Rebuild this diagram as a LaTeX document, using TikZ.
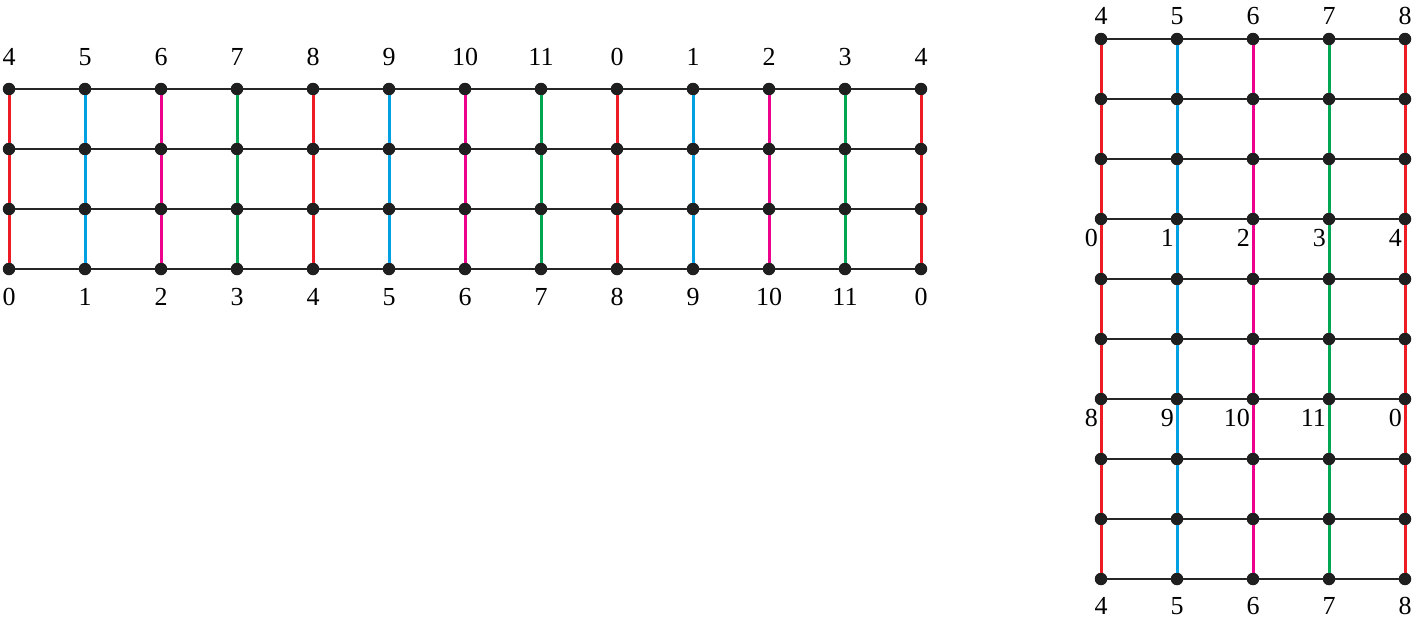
\documentclass[tikz,border=0pt]{standalone}
\usepackage{fontspec}
\setmainfont{Liberation Serif}
\definecolor{col0}{RGB}{237,28,36}
\definecolor{col1}{RGB}{0,160,227}
\definecolor{col2}{RGB}{236,0,140}
\definecolor{col3}{RGB}{0,166,81}
\begin{document}
\begin{tikzpicture}[x=1pt,y=-1pt,
  dot/.style={circle,fill=black!88,inner sep=0pt,minimum size=12.5pt},
  hline/.style={line width=1.8pt,black!85},
  vline/.style={line width=3pt},
  lab/.style={font=\fontsize{26}{26}\selectfont,inner sep=0pt}]
\useasboundingbox (0,0) rectangle (1417,621);
% left grid
\foreach \i in {0,...,12}{
  \foreach \j in {0,...,3}{
    \node[dot] (L\i-\j) at (9+76*\i,89+60*\j) {};
  }
}
\foreach \i in {0,...,12}{
  \pgfmathtruncatemacro{\c}{mod(\i,4)}
  \foreach \j in {0,...,2}{
    \pgfmathtruncatemacro{\jj}{\j+1}
    \draw[vline,col\c] (L\i-\j) -- (L\i-\jj);
  }
}
\foreach \i in {0,...,11}{
  \pgfmathtruncatemacro{\ii}{\i+1}
  \foreach \j in {0,...,3}{
    \draw[hline] (L\i-\j) -- (L\ii-\j);
  }
}
\foreach \i in {0,...,12}{
  \pgfmathtruncatemacro{\t}{mod(\i+4,12)}
  \pgfmathtruncatemacro{\b}{mod(\i,12)}
  \node[lab] (LT\i) at (9+76*\i,57) {\t};
  \node[lab] (LB\i) at (9+76*\i,297) {\b};
}
% right grid
\foreach \i in {0,...,4}{
  \foreach \j in {0,...,9}{
    \node[dot] (R\i-\j) at (1101+76*\i,39+60*\j) {};
  }
}
\foreach \i in {0,...,4}{
  \pgfmathtruncatemacro{\c}{mod(\i,4)}
  \foreach \j in {0,...,8}{
    \pgfmathtruncatemacro{\jj}{\j+1}
    \draw[vline,col\c] (R\i-\j) -- (R\i-\jj);
  }
}
\foreach \i in {0,...,3}{
  \pgfmathtruncatemacro{\ii}{\i+1}
  \foreach \j in {0,...,9}{
    \draw[hline] (R\i-\j) -- (R\ii-\j);
  }
}
\foreach \i in {0,...,4}{
  \pgfmathtruncatemacro{\t}{\i+4}
  \node[lab] (RT\i) at (1101+76*\i,16) {\t};
  \node[lab] (RB\i) at (1101+76*\i,606) {\t};
}
\foreach \i/\t in {0/0,1/1,2/2,3/3,4/4}{
  \node[lab,anchor=base east] (RM\i) at (1098+76*\i,246) {\t};
}
\foreach \i/\t in {0/8,1/9,2/10,3/11,4/0}{
  \node[lab,anchor=base east] (RN\i) at (1098+76*\i,426) {\t};
}
\end{tikzpicture}
\end{document}
